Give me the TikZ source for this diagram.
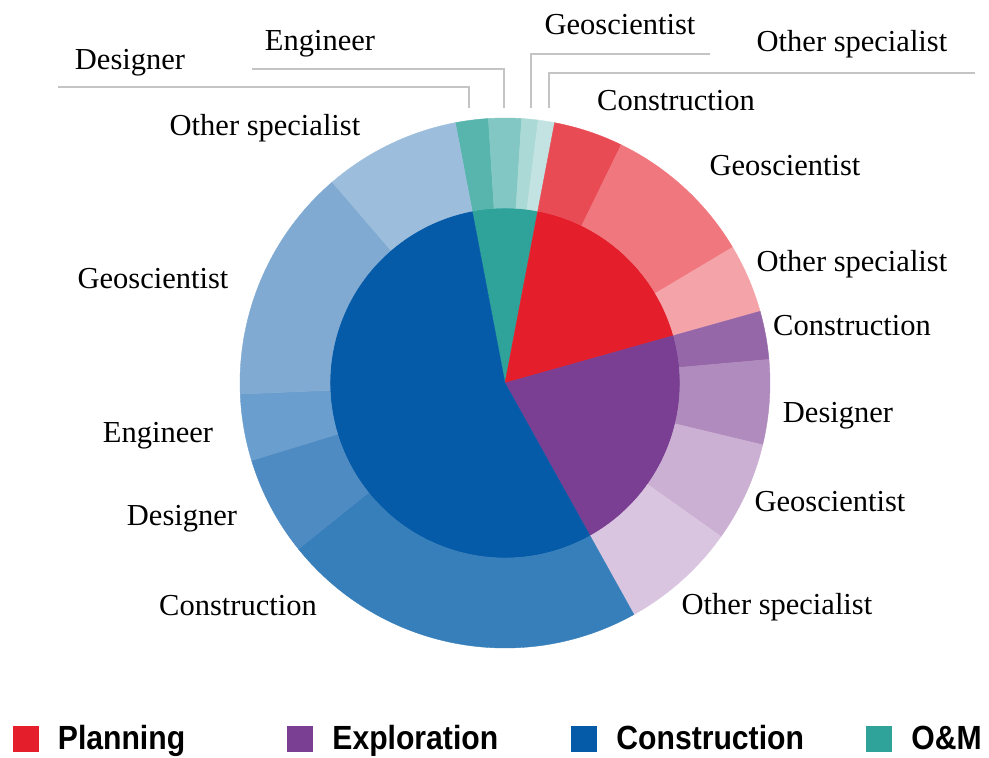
\documentclass[tikz,border=0pt]{standalone}
\usepackage{fontspec}
\setmainfont{Liberation Serif}
\newfontfamily\legendfont[FakeStretch=0.9]{Liberation Sans}
\usetikzlibrary{positioning}

% inner ring
\definecolor{plan}{HTML}{E41E2B}
\definecolor{expl}{HTML}{7A3F92}
\definecolor{cons}{HTML}{065BA8}
\definecolor{om}{HTML}{2FA39A}
% outer ring
\definecolor{planCons}{HTML}{E94B55}
\definecolor{planGeo}{HTML}{F0777D}
\definecolor{planOth}{HTML}{F4A4A9}
\definecolor{explCons}{HTML}{9566A8}
\definecolor{explDsg}{HTML}{B08BBD}
\definecolor{explGeo}{HTML}{CBB0D3}
\definecolor{explOth}{HTML}{D9C5E0}
\definecolor{consCons}{HTML}{377FBA}
\definecolor{consDsg}{HTML}{4E8BC3}
\definecolor{consEng}{HTML}{6A9ECE}
\definecolor{consGeo}{HTML}{80AAD2}
\definecolor{consOth}{HTML}{9CBEDC}
\definecolor{omDsg}{HTML}{57B5AE}
\definecolor{omEng}{HTML}{82C7C3}
\definecolor{omGeo}{HTML}{ABD9D6}
\definecolor{omOth}{HTML}{C2E3E1}
\definecolor{leader}{HTML}{C4C4C4}

\begin{document}
\begin{tikzpicture}[x=1pt, y=1pt,
  lbl/.style={font=\fontsize{30.5}{36}\selectfont, anchor=base, inner sep=0pt},
  keybox/.style={minimum size=26pt, inner sep=0pt},
  keytext/.style={font=\legendfont\bfseries\fontsize{33.5}{36}\selectfont,
    inner sep=0pt, text height=22pt, text depth=0pt},
  leaderline/.style={draw=leader, line width=1.4pt}]

  \useasboundingbox (0,0) rectangle (989,758);

  \newcommand\Rin{175}
  \newcommand\Rout{265}

  \begin{scope}[shift={(505,375)}]
    % inner pie
    \foreach \c/\a/\b in {om/100.8/79.2, plan/79.2/15.7, expl/15.7/-60.9, cons/-60.9/-259.2}
      \filldraw[fill=\c, draw=\c, line width=0.4pt] (0,0) -- (\a:\Rin)
        arc[start angle=\a, end angle=\b, radius=\Rin] -- cycle;

    % outer ring
    \foreach \c/\a/\b in {omDsg/100.8/93.6, omEng/93.6/86.4, omGeo/86.4/82.8, omOth/82.8/79.2,
        planCons/79.2/64.0, planGeo/64.0/30.8, planOth/30.8/15.7,
        explCons/15.7/5.1, explDsg/5.1/-13.5, explGeo/-13.5/-35.4, explOth/-35.4/-60.9,
        consCons/-60.9/-141.2, consDsg/-141.2/-163.0, consEng/-163.0/-177.6,
        consGeo/-177.6/-229.3, consOth/-229.3/-259.2}
      \filldraw[fill=\c, draw=\c, line width=0.4pt] (\a:\Rin)
        arc[start angle=\a, end angle=\b, radius=\Rin] -- (\b:\Rout)
        arc[start angle=\b, end angle=\a, radius=\Rout] -- cycle;
  \end{scope}

  % O&M labels with leader lines
  \node[lbl] (omDsgLbl) at (130,688) {Designer};
  \node[lbl] (omEngLbl) at (320,707) {Engineer};
  \node[lbl] (omGeoLbl) at (620,723) {Geoscientist};
  \node[lbl] (omOthLbl) at (852,706) {Other specialist};

  \coordinate (omDsgA) at (58,671);   \coordinate (omDsgB) at (469,650);
  \coordinate (omEngA) at (252,689);  \coordinate (omEngB) at (504,650);
  \coordinate (omGeoA) at (710,704);  \coordinate (omGeoB) at (531,650);
  \coordinate (omOthA) at (975,685);  \coordinate (omOthB) at (549,650);

  \draw[leaderline] (omDsgA) -| (omDsgB);
  \draw[leaderline] (omEngA) -| (omEngB);
  \draw[leaderline] (omGeoA) -| (omGeoB);
  \draw[leaderline] (omOthA) -| (omOthB);

  % planning
  \node[lbl] (planConsLbl) at (676,647) {Construction};
  \node[lbl] (planGeoLbl) at (785,582) {Geoscientist};
  \node[lbl] (planOthLbl) at (852,486) {Other specialist};

  % exploration
  \node[lbl] (explConsLbl) at (852,422) {Construction};
  \node[lbl] (explDsgLbl) at (838,335) {Designer};
  \node[lbl] (explGeoLbl) at (830,246) {Geoscientist};
  \node[lbl] (explOthLbl) at (777,143) {Other specialist};

  % construction
  \node[lbl] (consOthLbl) at (265,622) {Other specialist};
  \node[lbl] (consGeoLbl) at (153,469) {Geoscientist};
  \node[lbl] (consEngLbl) at (158,315) {Engineer};
  \node[lbl] (consDsgLbl) at (182,232) {Designer};
  \node[lbl] (consConsLbl) at (238,142) {Construction};

  % legend
  \node[keybox, fill=plan] (keyPlan) at (25.5,19) {};
  \node[keytext, right=19pt of keyPlan] (keyPlanTxt) {Planning};
  \node[keybox, fill=expl] (keyExpl) at (300,19) {};
  \node[keytext, right=19pt of keyExpl] (keyExplTxt) {Exploration};
  \node[keybox, fill=cons] (keyCons) at (584,19) {};
  \node[keytext, right=19pt of keyCons] (keyConsTxt) {Construction};
  \node[keybox, fill=om] (keyOM) at (879,19) {};
  \node[keytext, right=19pt of keyOM] (keyOMTxt) {O\&M};
\end{tikzpicture}
\end{document}
